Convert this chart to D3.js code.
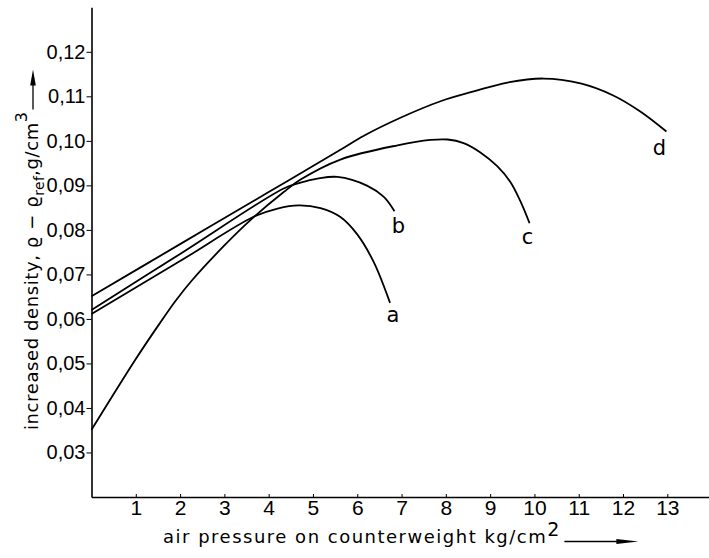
<!DOCTYPE html>
<html><head><meta charset="utf-8">
<script src="https://cdn.jsdelivr.net/npm/d3@7"></script>
<style>html,body{margin:0;padding:0;background:#fff;} svg{display:block;}</style>
</head><body>
<svg id="chart" width="709" height="558"></svg>
<script>
// ---- data ----
const xTicks = [1,2,3,4,5,6,7,8,9,10,11,12,13];
const yTicks = [0.03,0.04,0.05,0.06,0.07,0.08,0.09,0.10,0.11,0.12];
const curveNames = ["a","b","c","d"];
const aX = [0, 2, 3.67, 4.2, 4.68, 5.17, 5.62, 6.0, 6.37, 6.74];
const aY = [0.0611, 0.0730, 0.0830, 0.0848, 0.0855, 0.0849, 0.0829, 0.0790, 0.0728, 0.0636];
const bX = [0, 2, 4.34, 4.72, 5.1, 5.55, 6.23, 6.6, 6.84];
const bY = [0.0620, 0.0746, 0.0893, 0.0906, 0.0915, 0.0919, 0.0899, 0.0874, 0.0842];
const cX = [0, 1.0, 1.54, 1.9, 2.28, 3.0, 3.6, 4.34, 4.72, 5.62, 6.91, 7.65, 8.04, 8.4, 8.78, 9.16, 9.46, 9.68, 9.89];
const cY = [0.0351, 0.0510, 0.0590, 0.0641, 0.0688, 0.0765, 0.0823, 0.0885, 0.0913, 0.0958, 0.0990, 0.1002, 0.1003, 0.0995, 0.0974, 0.0943, 0.0907, 0.0865, 0.0815];
const dX = [0, 2, 4, 5.62, 6.14, 7.0, 7.88, 8.63, 9.39, 10.2, 11.04, 11.78, 12.39, 12.98];
const dY = [0.0651, 0.0768, 0.0885, 0.0980, 0.1011, 0.1053, 0.1089, 0.1111, 0.1131, 0.1140, 0.1129, 0.1102, 0.1066, 0.1021];

const seriesX = [aX, bX, cX, dX];
const seriesY = [aY, bY, cY, dY];
const labelOffsets = [[3,12],[4,15],[-2,14],[-7,16]];

const svg = d3.select("#chart");
const x = d3.scaleLinear().domain([0, 13.93]).range([91.5, 708.5]);
const y = d3.scaleLinear().domain([0.02, 0.13]).range([497, 7.3]);

const tickFont = "'Liberation Sans Narrow','Liberation Sans',sans-serif";
const titleFont = "'DejaVu Sans',sans-serif";

// x axis
const gx = svg.append("g")
  .attr("transform", `translate(0,${y(0.02)})`)
  .call(d3.axisBottom(x).tickValues(xTicks).tickSizeInner(-3).tickSizeOuter(0).tickFormat(d3.format("d")));
gx.select(".domain").attr("stroke", "#000").attr("stroke-width", 1.6);
gx.selectAll(".tick line").attr("stroke", "#000").attr("stroke-width", 1);
gx.selectAll(".tick text").attr("y", 18).attr("dy", 0)
  .attr("fill", "#000").style("font-family", tickFont).style("font-size", "21px");

// y axis
const gy = svg.append("g")
  .attr("transform", `translate(${x(0)},0)`)
  .call(d3.axisLeft(y).tickValues(yTicks).tickSize(5).tickSizeOuter(0).tickPadding(1)
    .tickFormat(d => d3.format(".2f")(d).replace(".", ",")));
gy.select(".domain").attr("stroke", "#000").attr("stroke-width", 1.6);
gy.selectAll(".tick line").attr("stroke", "#000").attr("stroke-width", 1);
gy.selectAll(".tick text").attr("fill", "#000").style("font-family", tickFont).style("font-size", "20px");

// curves
const line = d3.line().x(p => x(p[0])).y(p => y(p[1])).curve(d3.curveCatmullRom.alpha(0.5));
curveNames.forEach((name, i) => {
  const pts = seriesX[i].map((v, j) => [v, seriesY[i][j]]);
  svg.append("path").datum(pts).attr("d", line)
    .attr("fill", "none").attr("stroke", "#000").attr("stroke-width", 1.8);
  const last = pts[pts.length - 1];
  svg.append("text")
    .attr("x", x(last[0]) + labelOffsets[i][0])
    .attr("y", y(last[1]) + labelOffsets[i][1])
    .attr("text-anchor", "middle").attr("dominant-baseline", "central")
    .style("font-family", titleFont).style("font-size", "21px").text(name);
});

// x title
const xt = svg.append("text").attr("x", 163).attr("y", 543)
  .style("font-family", titleFont).style("font-size", "18px").style("letter-spacing", "1.5px");
xt.append("tspan").text("air pressure on counterweight kg/cm");
xt.append("tspan").attr("dy", -7).style("font-size", "19px").style("letter-spacing", "0px").text("2");
const xEnd = 163 + xt.node().getComputedTextLength();
const ax0 = xEnd + 5, ax1 = ax0 + 74, ay = 541.5;
svg.append("line").attr("x1", ax0).attr("x2", ax1 - 16).attr("y1", ay).attr("y2", ay)
  .attr("stroke", "#000").attr("stroke-width", 1.3);
svg.append("path").attr("d", `M${ax1},${ay} L${ax1-22},${ay-2.6} L${ax1-22},${ay+2.6} Z`).attr("fill", "#000");

// y title
const yt = svg.append("text").attr("transform", "translate(38,430) rotate(-90)")
  .style("font-family", titleFont).style("font-size", "18px").style("letter-spacing", "0.6px");
yt.append("tspan").text("increased density, ϱ − ϱ");
yt.append("tspan").attr("dy", 6).style("font-size", "14px").style("letter-spacing", "0.3px").text("ref");
yt.append("tspan").attr("dy", -6).text(",g/cm");
yt.append("tspan").attr("dy", -11).style("font-size", "16px").text("3");
const yEnd = 430 - yt.node().getComputedTextLength();
const by0 = yEnd - 2, by1 = Math.max(by0 - 40, 10), bx = 33;
svg.append("line").attr("x1", bx).attr("x2", bx).attr("y1", by0).attr("y2", by1 + 12)
  .attr("stroke", "#000").attr("stroke-width", 1.3);
svg.append("path").attr("d", `M${bx},${by1} L${bx-2.8},${by1+16} L${bx+2.8},${by1+16} Z`).attr("fill", "#000");
</script>
</body></html>
